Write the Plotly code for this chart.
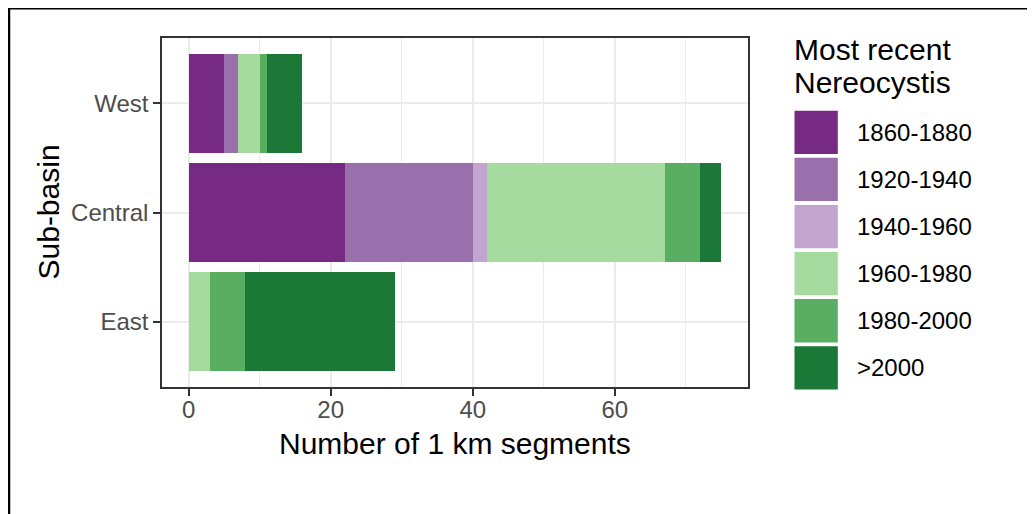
import plotly.graph_objects as go

# ---- data ----
basins = ["West", "Central", "East"]
periods = ["1860-1880", "1920-1940", "1940-1960", "1960-1980", "1980-2000", ">2000"]
colors = ["#762A83", "#9970AB", "#C2A5CF", "#A6DBA0", "#5AAE61", "#1B7837"]
counts = {
    "1860-1880": [5, 22, 0],
    "1920-1940": [2, 18, 0],
    "1940-1960": [0, 2, 0],
    "1960-1980": [3, 25, 3],
    "1980-2000": [1, 5, 5],
    ">2000":     [5, 3, 21],
}
x_ticks = [0, 20, 40, 60]
x_title = "Number of 1 km segments"
y_title = "Sub-basin"
legend_title = ["Most recent", "Nereocystis"]

OFF = 8  # page body margin offset (screen px)
W, H = 1035 - OFF, 514 - OFF
# plot area in screen pixels
SL, SR, ST, SB = 162, 748, 38, 387
L, R, T, B = SL - OFF, SR - OFF, ST - OFF, SB - OFF

def px(sx):
    return (sx - OFF - L) / (R - L)

def py(sy):
    return (B - (sy - OFF)) / (B - T)

FONT = "Liberation Sans, Arial, sans-serif"

fig = go.Figure()
for p, c in zip(periods, colors):
    fig.add_trace(go.Bar(
        y=basins, x=counts[p], name=p, orientation="h",
        marker=dict(color=c, line=dict(width=0)),
        showlegend=False,
    ))

fig.update_layout(
    barmode="stack",
    bargap=0.1,
    width=W, height=H,
    margin=dict(l=L, r=W - R, t=T, b=H - B, pad=0),
    paper_bgcolor="white",
    plot_bgcolor="white",
    font=dict(family=FONT),
)

fig.update_xaxes(
    range=[-3.75, 78.75],
    tickvals=x_ticks,
    ticks="outside", ticklen=7, tickwidth=2, tickcolor="#333333",
    tickfont=dict(size=24, color="#4D4D4D", family=FONT),
    showgrid=True, gridcolor="#EBEBEB", gridwidth=2,
    minor=dict(dtick=10, tick0=0, showgrid=True, gridcolor="#EBEBEB", gridwidth=1, ticks=""),
    showline=True, linecolor="#333333", linewidth=1.5, mirror=True,
    zeroline=False,
    ticklabelstandoff=-7,
)
fig.update_yaxes(
    categoryorder="array", categoryarray=basins[::-1],
    range=[-0.6, 2.6],
    ticks="outside", ticklen=7, tickwidth=2, tickcolor="#333333",
    tickfont=dict(size=24, color="#4D4D4D", family=FONT),
    showgrid=True, gridcolor="#EBEBEB", gridwidth=2,
    showline=True, linecolor="#333333", linewidth=1.5, mirror=True,
    zeroline=False,
    ticklabelstandoff=0,
)

annotations = [
    dict(text=x_title, x=px(455), y=py(443), xref="paper", yref="paper",
         xanchor="center", yanchor="middle", showarrow=False,
         font=dict(size=30, color="black", family=FONT)),
    dict(text=y_title, x=px(48), y=py(212.5), xref="paper", yref="paper",
         xanchor="center", yanchor="middle", showarrow=False, textangle=-90,
         font=dict(size=30, color="black", family=FONT)),
]
for i, line in enumerate(legend_title):
    annotations.append(dict(
        text=line, x=px(792), y=py(49 + 34 * i), xref="paper", yref="paper",
        xanchor="left", yanchor="middle", showarrow=False,
        font=dict(size=30, color="black", family=FONT)))

shapes = []
key_top, key_size, key_pitch = 110.7, 43.3, 47.1
for i, (p, c) in enumerate(zip(periods, colors)):
    y0 = key_top + i * key_pitch
    shapes.append(dict(type="rect", xref="paper", yref="paper",
                       x0=px(794.5), x1=px(794.5 + key_size),
                       y0=py(y0), y1=py(y0 + key_size),
                       fillcolor=c, line=dict(width=0)))
    annotations.append(dict(
        text=p, x=px(855), y=py(y0 + key_size / 2), xref="paper", yref="paper",
        xanchor="left", yanchor="middle", showarrow=False,
        font=dict(size=24, color="black", family=FONT)))

# outer frame (left and top edges visible)
shapes.append(dict(type="line", xref="paper", yref="paper",
                   x0=px(9), x1=px(9), y0=py(530), y1=py(8.2),
                   line=dict(color="black", width=2.5)))
shapes.append(dict(type="line", xref="paper", yref="paper",
                   x0=px(7.8), x1=px(1050), y0=py(8.2), y1=py(8.2),
                   line=dict(color="black", width=2.5)))

fig.update_layout(annotations=annotations, shapes=shapes)

fig.write_html("out.html")
